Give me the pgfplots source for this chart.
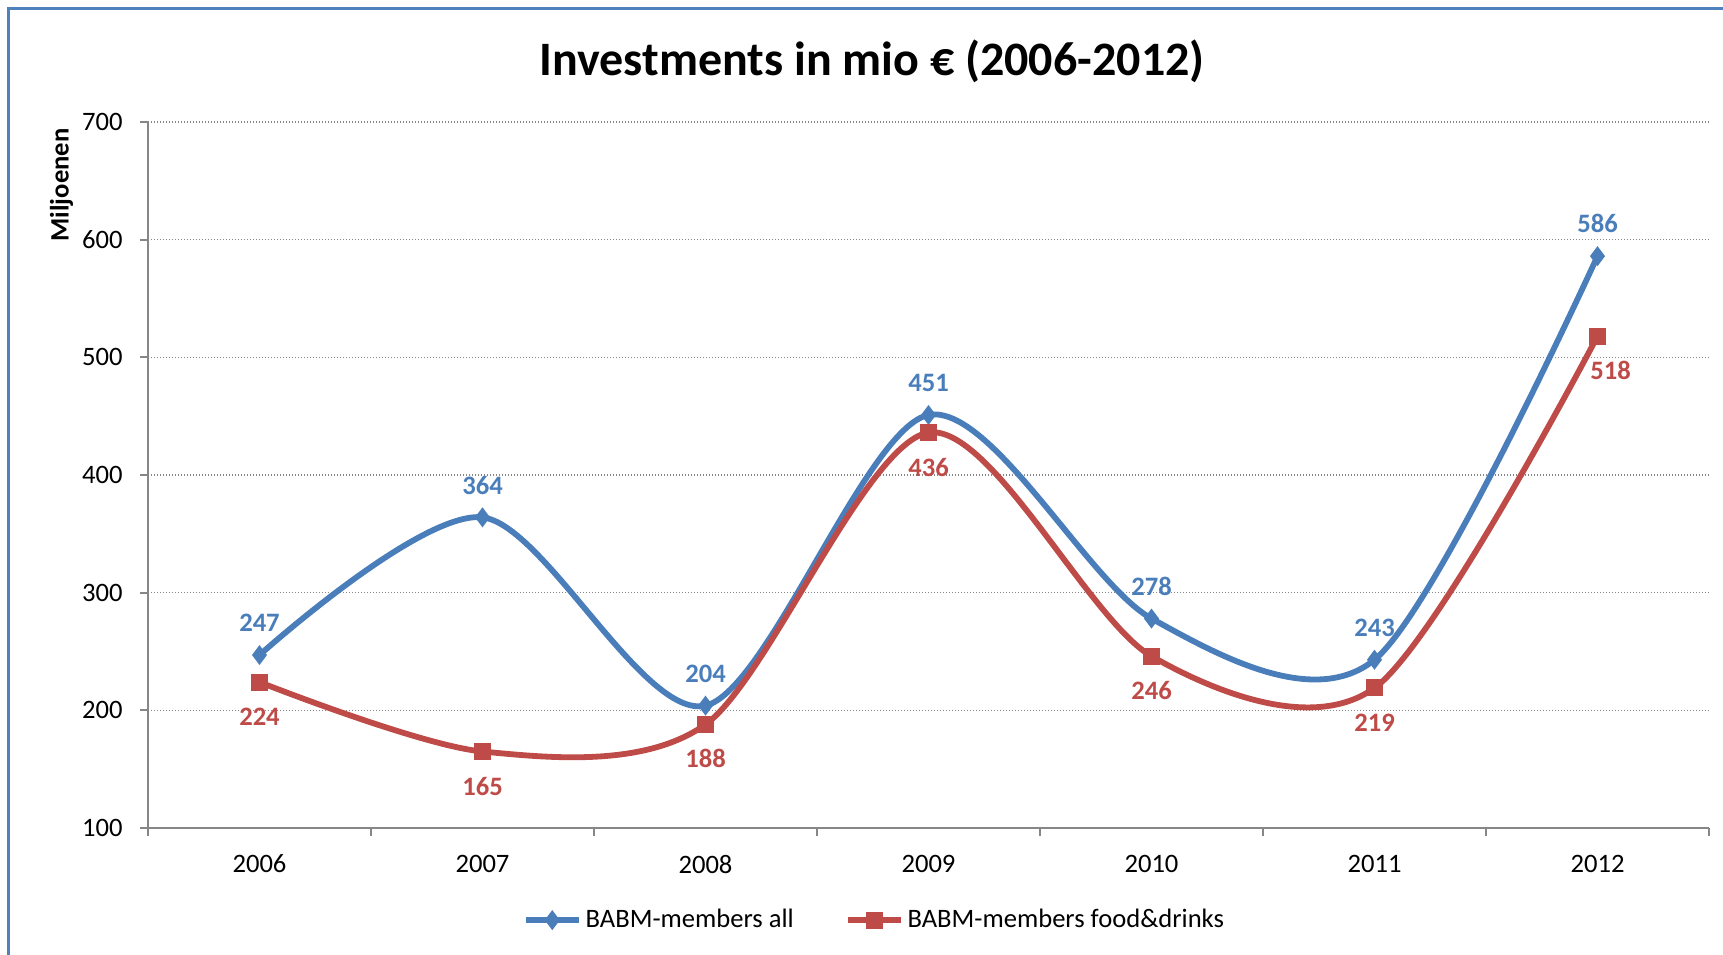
\documentclass[border=0pt]{standalone}
\usepackage{fontspec}
\setmainfont{Carlito}
\usepackage{pgfplots}
\usepackage{pgfplotstable}
\pgfplotsset{compat=1.18}
\definecolor{bl}{HTML}{4A7EBB}
\definecolor{rd}{HTML}{BE4B48}
\definecolor{ax}{HTML}{868686}
\definecolor{fr}{HTML}{4F81BD}
\pgfplotstableread{
x y dx
0 247 0
1 364 0
2 204 0
3 451 0
4 278 0
5 243 0
6 586 0
}\allmembers
\pgfplotstableread{
x y dx
0 224 0
1 165 0
2 188 0
3 436 0
4 246 0
5 219 0
6 518 6.5
}\foodmembers
\begin{document}
\begin{tikzpicture}
\useasboundingbox (-74pt,-63pt) rectangle (787.5pt,414pt);
\begin{axis}[
  scale only axis, width=780.5pt, height=353pt,
  at={(0pt,0pt)}, anchor=south west,
  xmin=-0.5, xmax=6.5, ymin=100, ymax=700,
  axis x line*=bottom, axis y line*=left,
  axis line style={draw=ax, line width=1pt},
  tick align=outside, major tick length=4pt,
  tick style={draw=ax, line width=1pt},
  xtick={-0.5,0.5,...,6.5}, xticklabels={},
  extra x ticks={0,1,2,3,4,5,6},
  extra x tick labels={2006,2007,2008,2009,2010,2011,2012},
  extra x tick style={major tick length=0pt,
     xticklabel style={anchor=north, inner sep=0pt, yshift=-13.3pt}},
  ytick={100,200,...,700},
  yticklabel style={anchor=east, inner sep=0pt, xshift=-8.5pt},
  /pgf/number format/assume math mode=true,
  ymajorgrids,
  grid style={draw=ax, line width=0.65pt, dash pattern=on 0.65pt off 0.85pt},
  tick label style={font=\fontsize{13.3}{16}\selectfont, text=black},
  title={Investments in mio € (2006-2012)},
  title style={at={(axis description cs:0.4638,1.0694)}, anchor=center,
     font=\fontsize{24}{29}\selectfont\bfseries},
  ylabel={Miljoenen},
  ylabel style={at={(axis description cs:-0.0554,0.9108)}, anchor=center,
     font=\fontsize{13.3}{16}\selectfont\bfseries},
  legend columns=2,
  legend style={at={(0.466,-0.1305)}, anchor=center, draw=none, fill=none,
     font=\fontsize{13.3}{16}\selectfont,
     /tikz/every even column/.append style={column sep=23.5pt}},
  legend image code/.code={\draw[mark repeat=2,mark phase=2,#1] plot coordinates {(0pt,0pt) (13.25pt,0pt) (26.5pt,0pt)};},
  point meta=explicit symbolic,
  visualization depends on={\thisrow{dx} \as \dx},
]
\addplot[bl, line width=2.9pt, smooth, tension=0.5, mark=diamond*, mark size=2.6pt,
  nodes near coords,
  nodes near coords style={anchor=south, inner sep=0pt, yshift=10.1pt, xshift=\dx pt,
     text=bl, font=\fontsize{13.3}{16}\selectfont\bfseries}]
  table[x=x, y=y, meta=y] {\allmembers};
\addlegendentry{BABM-members all}
\addplot[rd, line width=2.9pt, smooth, tension=0.5, mark=square*, mark size=2.8pt,
  nodes near coords,
  nodes near coords style={anchor=south, inner sep=0pt, yshift=-23.3pt, xshift=\dx pt,
     text=rd, font=\fontsize{13.3}{16}\selectfont\bfseries}]
  table[x=x, y=y, meta=y] {\foodmembers};
\addlegendentry{BABM-members food\&drinks}
\end{axis}
\draw[fr, line width=1.5pt] (-69.5pt,-70pt) -- (-69.5pt,409.5pt) -- (800pt,409.5pt);
\end{tikzpicture}
\end{document}
